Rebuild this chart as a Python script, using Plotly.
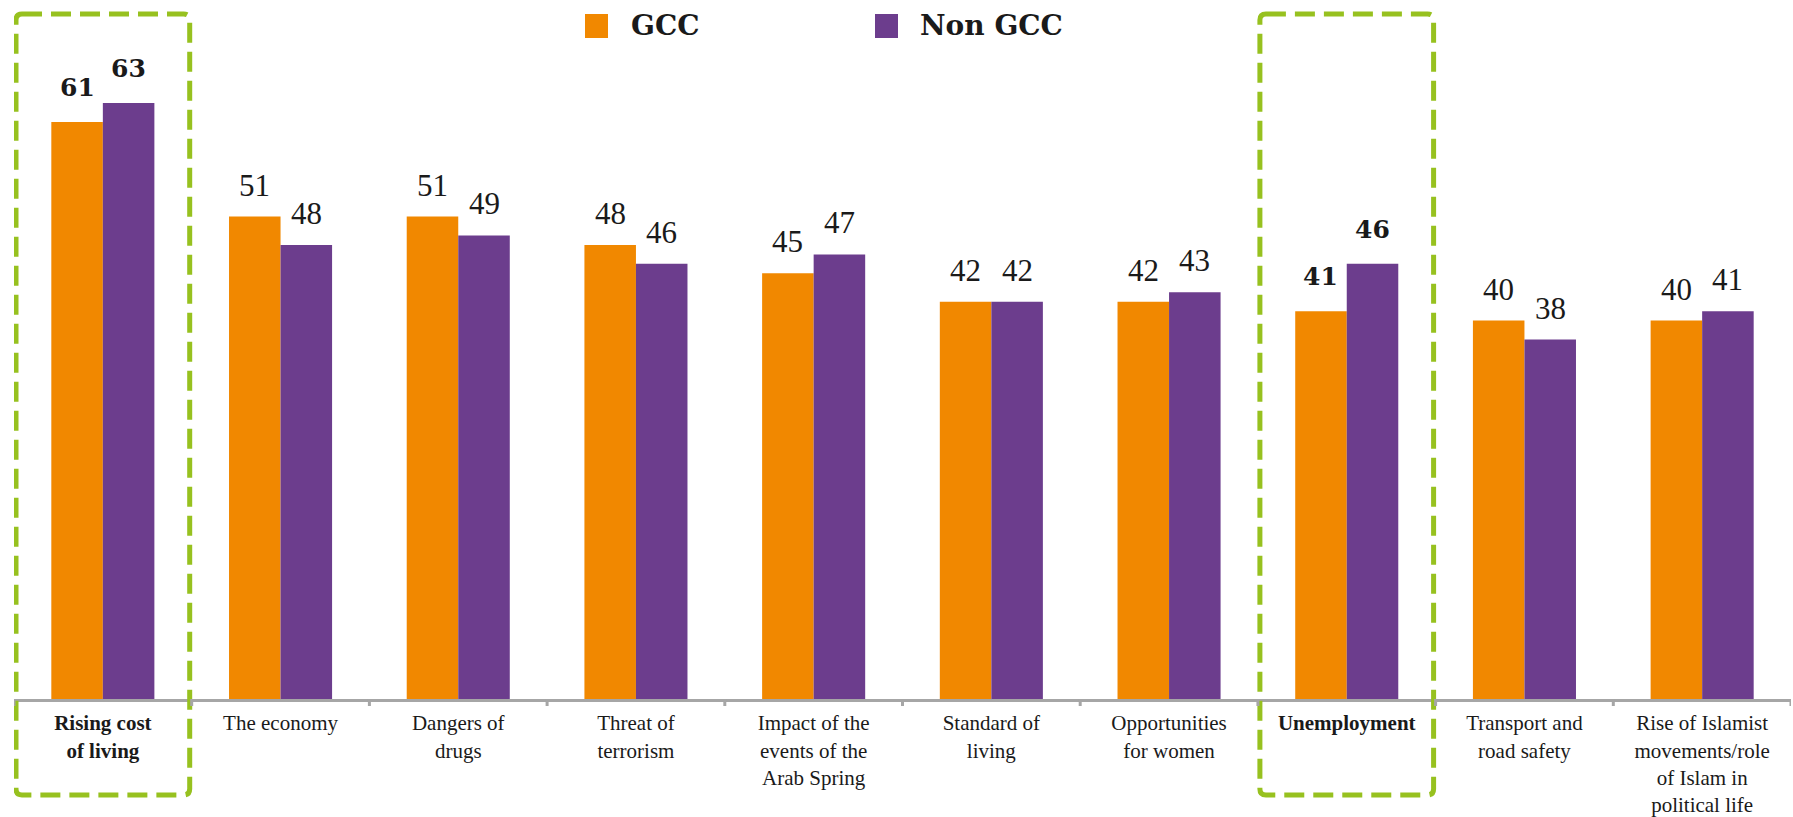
import plotly.graph_objects as go

# Survey data: share of respondents citing each concern (%)
categories = [
    "Rising cost<br>of living",
    "The economy",
    "Dangers of<br>drugs",
    "Threat of<br>terrorism",
    "Impact of the<br>events of the<br>Arab Spring",
    "Standard of<br>living",
    "Opportunities<br>for women",
    "Unemployment",
    "Transport and<br>road safety",
    "Rise of Islamist<br>movements/role<br>of Islam in<br>political life",
]
gcc = [61, 51, 51, 48, 45, 42, 42, 41, 40, 40]
non_gcc = [63, 48, 49, 46, 47, 42, 43, 46, 38, 41]
highlighted = [0, 7]
series_names = ["GCC", "Non GCC"]

ORANGE = "#F18800"
PURPLE = "#6C3D8D"
GREEN = "#97C11F"
AXIS_GREY = "#A6A6A6"
TEXT = "#1a1a1a"
SERIF = "Liberation Serif"
SLAB = "DejaVu Serif"

W, H = 1793, 817
M_L, M_R, M_T, M_B = 14, 2, 37, 118
plot_w = W - M_L - M_R
plot_h = H - M_T - M_B
BARGAP = 0.42
bar_px = plot_w / len(categories) * (1 - BARGAP) / 2
n = len(categories)


def px_x(p):
    """Horizontal pixel position -> paper fraction."""
    return (p - M_L) / plot_w


def px_y(p):
    """Vertical pixel position (from top) -> paper fraction."""
    return (H - M_B - p) / plot_h


ticktext = [f"<b>{c}</b>" if i in highlighted else c for i, c in enumerate(categories)]

fig = go.Figure()
fig.add_trace(go.Bar(x=list(range(n)), y=gcc, name=series_names[0],
                     marker=dict(color=ORANGE, line=dict(width=0))))
fig.add_trace(go.Bar(x=list(range(n)), y=non_gcc, name=series_names[1],
                     marker=dict(color=PURPLE, line=dict(width=0))))

# Value labels above each bar
for i in range(n):
    for vals, sign in ((gcc, -1), (non_gcc, 1)):
        v = vals[i]
        if i in highlighted:
            txt, fnt = f"<b>{v}</b>", dict(family=SLAB, size=25, color=TEXT)
            ys = 18
        else:
            txt, fnt = str(v), dict(family=SERIF, size=31, color=TEXT)
            ys = 12
        fig.add_annotation(x=i, y=v, text=txt, showarrow=False, xref="x", yref="y",
                           xanchor="center", yanchor="bottom",
                           xshift=sign * bar_px / 2, yshift=ys, font=fnt)

# Legend: square swatches with bold labels
legend_items = [(series_names[0], ORANGE, 585, 629), (series_names[1], PURPLE, 875, 918)]
for name, color, sx, tx in legend_items:
    fig.add_shape(type="rect", xref="paper", yref="paper",
                  x0=px_x(sx), x1=px_x(sx + 23), y0=px_y(38), y1=px_y(14),
                  fillcolor=color, line=dict(width=0))
    fig.add_annotation(xref="paper", yref="paper", x=px_x(tx), y=px_y(26),
                       xanchor="left", yanchor="middle", showarrow=False,
                       text=f"<b>{name}</b>", font=dict(family=SLAB, size=28, color=TEXT))

# Dashed, rounded highlight boxes around emphasised categories
rx, ry = 6 / (plot_w / n), 6 / plot_h
for i in highlighted:
    x0, x1 = i - 0.5 + 2 / (plot_w / n), i + 0.5 - 2 / (plot_w / n)
    y0, y1 = px_y(795), px_y(14)
    path = (f"M {x0 + rx},{y1} L {x1 - rx},{y1} Q {x1},{y1} {x1},{y1 - ry} "
            f"L {x1},{y0 + ry} Q {x1},{y0} {x1 - rx},{y0} "
            f"L {x0 + rx},{y0} Q {x0},{y0} {x0},{y0 + ry} "
            f"L {x0},{y1 - ry} Q {x0},{y1} {x0 + rx},{y1} Z")
    fig.add_shape(type="path", xref="x", yref="paper", path=path,
                  line=dict(color=GREEN, width=5, dash="20px,9px"), layer="above")

# Boundary tick marks between categories
for b in range(n + 1):
    fig.add_shape(type="line", xref="x", yref="paper", x0=b - 0.5, x1=b - 0.5,
                  y0=0, y1=-7 / plot_h, line=dict(color=AXIS_GREY, width=3))

fig.update_layout(
    width=W, height=H,
    margin=dict(l=M_L, r=M_R, t=M_T, b=M_B, autoexpand=False),
    paper_bgcolor="white", plot_bgcolor="white",
    barmode="group", bargap=BARGAP, bargroupgap=0,
    font=dict(family=SERIF, color=TEXT),
    showlegend=False,
    xaxis=dict(range=[-0.5, n - 0.5], tickmode="array",
               tickvals=list(range(n)), ticktext=ticktext, automargin=False,
               showline=True, linecolor=AXIS_GREY, linewidth=3,
               showgrid=False, zeroline=False, ticks="", ticklabelstandoff=3,
               tickfont=dict(family=SERIF, size=21, color=TEXT)),
    yaxis=dict(range=[0, plot_h / 9.46], visible=False, fixedrange=True, automargin=False),
)

fig.write_html("out.html")
